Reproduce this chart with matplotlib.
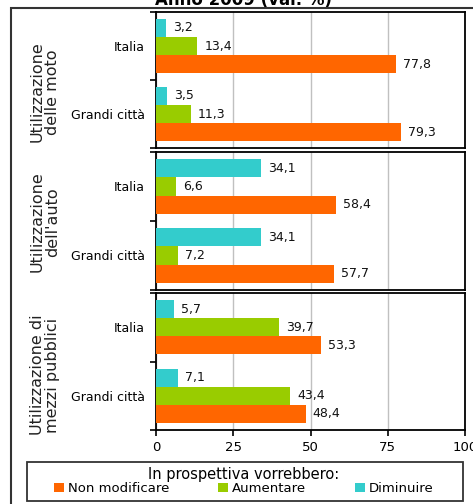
import numpy as np
import matplotlib
matplotlib.use("Agg")
import matplotlib.pyplot as plt
from matplotlib.patches import Rectangle

# data
categorie = ["Italia", "Grandi città"]
gruppi = ["Utilizzazione\ndelle moto", "Utilizzazione\ndell'auto", "Utilizzazione di\nmezzi pubblici"]
serie = ["Non modificare", "Aumentare", "Diminuire"]
non_modificare = [[77.8, 79.3], [58.4, 57.7], [53.3, 48.4]]
aumentare = [[13.4, 11.3], [6.6, 7.2], [39.7, 43.4]]
diminuire = [[3.2, 3.5], [34.1, 34.1], [5.7, 7.1]]
x_ticks = [0, 25, 50, 75, 100]

colori = {"Non modificare": "#FF6600", "Aumentare": "#99CC00", "Diminuire": "#33CCCC"}

W, H = 473, 504
fig = plt.figure(figsize=(W / 100, H / 100), dpi=100)

def fx(px):
    return px / W

def fy(py):
    return 1 - py / H

# axes rows in pixel coords (top, bottom)
righe = [(12, 148), (152, 290), (293, 430)]
label_y = [92, 222, 375]
left, right = 156, 465

h = 0.265
y = np.arange(len(categorie))
axes = []
for i, (top, bot) in enumerate(righe):
    ax = fig.add_axes([fx(left), fy(bot), fx(right - left), (bot - top) / H])
    axes.append(ax)
    vals = {"Diminuire": diminuire[i], "Aumentare": aumentare[i], "Non modificare": non_modificare[i]}
    offs = {"Diminuire": -h, "Aumentare": 0, "Non modificare": h}
    handles = {}
    for s in ["Diminuire", "Aumentare", "Non modificare"]:
        b = ax.barh(y + offs[s], vals[s], height=h, color=colori[s], label=s, zorder=3)
        ax.bar_label(b, labels=[f"{v:.1f}".replace(".", ",") for v in vals[s]],
                     padding=5, fontsize=9, color="#111111")
        handles[s] = b
    ax.set_xlim(0, 100)
    ax.set_ylim(1.5, -0.5)
    ax.set_xticks(x_ticks)
    ax.grid(axis="x", color="#c0c0c0", lw=1, zorder=0)
    ax.set_yticks([-0.5, 0.5, 1.5])
    ax.set_yticklabels([])
    ax.set_yticks(y, categorie, minor=True)
    ax.tick_params(axis="y", which="major", length=4, width=1.2, direction="out")
    ax.tick_params(axis="y", which="minor", length=0, pad=8, labelsize=9)
    for sp in ax.spines.values():
        sp.set_linewidth(1.3)
        sp.set_color("black")
    if i < 2:
        ax.tick_params(axis="x", length=0, labelbottom=False)
    else:
        ax.tick_params(axis="x", length=4, width=1.2, labelsize=9.5, pad=4)
    fig.text(fx(45), fy(label_y[i]), gruppi[i], rotation=90, ha="center", va="center",
             fontsize=11.5, linespacing=1.0, color="#222222")

# title (cut at the top)
fig.text(fx(243), fy(5), "Anno 2009 (val. %)", ha="center", va="baseline",
         fontsize=12, fontweight="bold")

# outer frame
fig.add_artist(Rectangle((fx(11), fy(520)), fx(480), (520 - 8) / H, transform=fig.transFigure,
                         fill=False, ec="#333333", lw=1.5))

# legend
fig.add_artist(Rectangle((fx(27), fy(501)), fx(436), 39 / H, transform=fig.transFigure,
                         fill=False, ec="#333333", lw=1.3))
leg_handles = [handles[s] for s in serie]
fig.legend(leg_handles, serie, ncol=3, loc="center", bbox_to_anchor=(fx(244), fy(481)),
           frameon=False, fontsize=9.5, title="In prospettiva vorrebbero:", title_fontsize=10.5,
           handlelength=0.75, handleheight=0.75, handletextpad=0.3, columnspacing=3.7,
           borderpad=0, labelspacing=0)

fig.savefig("out.png", dpi=100)
